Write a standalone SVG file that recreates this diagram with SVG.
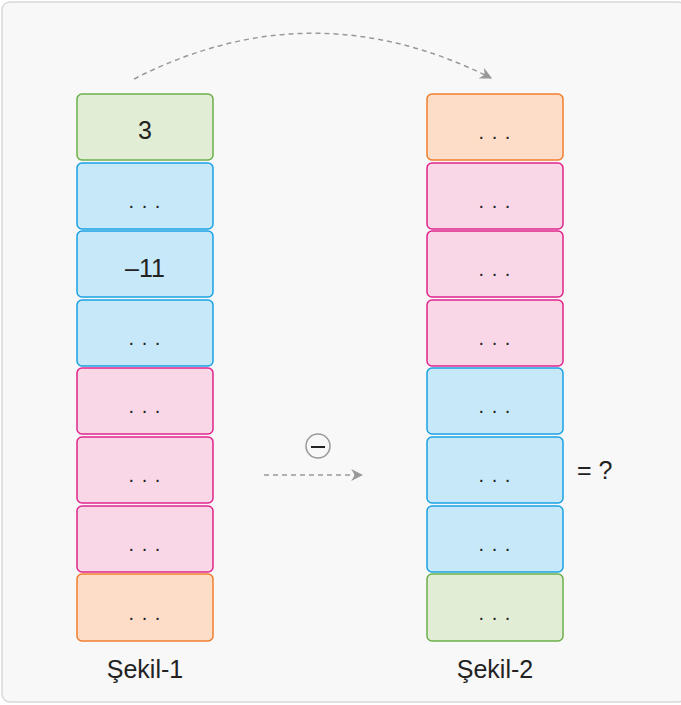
<svg xmlns="http://www.w3.org/2000/svg" width="681" height="705" viewBox="0 0 681 705">
<defs>
<style>
.t{font-family:"Liberation Sans",Arial,sans-serif;fill:#222;text-anchor:middle}
.d{font-size:20px;letter-spacing:1px}
.g{fill:#e1edd5;stroke:#6bb04a;stroke-width:1.5}
.b{fill:#c7e8f8;stroke:#1aa1e3;stroke-width:1.5}
.p{fill:#f9d7e7;stroke:#e0248c;stroke-width:1.5}
.o{fill:#fddcc8;stroke:#ef7d2c;stroke-width:1.5}
.c{fill:none;stroke:#999;stroke-width:1.5;stroke-dasharray:5 4}
</style>
<marker id="ah" viewBox="0 0 10 10" refX="9" refY="5" markerWidth="8" markerHeight="8" orient="auto" markerUnits="strokeWidth">
<path d="M0,0 L10,5 L0,10 L3,5 Z" fill="#999"/>
</marker>
</defs>
<rect x="2" y="2" width="684" height="700" rx="8" fill="#f8f8f8" stroke="#d8d8d8" stroke-width="1.5"/>
<g id="left">
<g id="l1"><rect class="g" x="77" y="94" width="136" height="66" rx="5"/><text class="t" x="145" y="139" font-size="25">3</text></g>
<g id="l2"><rect class="b" x="77" y="163" width="136" height="66" rx="5"/><text class="t d" x="145" y="208">. . .</text></g>
<g id="l3"><rect class="b" x="77" y="231" width="136" height="66" rx="5"/><text class="t" x="145" y="277" font-size="25">–11</text></g>
<g id="l4"><rect class="b" x="77" y="300" width="136" height="66" rx="5"/><text class="t d" x="145" y="345">. . .</text></g>
<g id="l5"><rect class="p" x="77" y="368" width="136" height="66" rx="5"/><text class="t d" x="145" y="413">. . .</text></g>
<g id="l6"><rect class="p" x="77" y="437" width="136" height="66" rx="5"/><text class="t d" x="145" y="482">. . .</text></g>
<g id="l7"><rect class="p" x="77" y="506" width="136" height="66" rx="5"/><text class="t d" x="145" y="551">. . .</text></g>
<g id="l8"><rect class="o" x="77" y="574" width="136" height="67" rx="5"/><text class="t d" x="145" y="620">. . .</text></g>
</g>
<g id="right">
<g id="r1"><rect class="o" x="427" y="94" width="136" height="66" rx="5"/><text class="t d" x="495" y="139">. . .</text></g>
<g id="r2"><rect class="p" x="427" y="163" width="136" height="66" rx="5"/><text class="t d" x="495" y="208">. . .</text></g>
<g id="r3"><rect class="p" x="427" y="231" width="136" height="66" rx="5"/><text class="t d" x="495" y="276">. . .</text></g>
<g id="r4"><rect class="p" x="427" y="300" width="136" height="66" rx="5"/><text class="t d" x="495" y="345">. . .</text></g>
<g id="r5"><rect class="b" x="427" y="368" width="136" height="66" rx="5"/><text class="t d" x="495" y="413">. . .</text></g>
<g id="r6"><rect class="b" x="427" y="437" width="136" height="66" rx="5"/><text class="t d" x="495" y="482">. . .</text></g>
<g id="r7"><rect class="b" x="427" y="506" width="136" height="66" rx="5"/><text class="t d" x="495" y="551">. . .</text></g>
<g id="r8"><rect class="g" x="427" y="574" width="136" height="67" rx="5"/><text class="t d" x="495" y="620">. . .</text></g>
</g>
<g id="labels">
<text class="t" x="145" y="678" font-size="25">Şekil-1</text>
<text class="t" x="495" y="678" font-size="25">Şekil-2</text>
<text class="t" x="577" y="479" font-size="25" text-anchor="start" style="text-anchor:start">= ?</text>
</g>
<g id="minus">
<circle cx="318" cy="446" r="12" fill="none" stroke="#999" stroke-width="1.5"/>
<line x1="311" y1="447" x2="325" y2="447" stroke="#222" stroke-width="2"/>
</g>
<g id="connectors">
<path class="c" d="M134,79 Q312,-12 491,78" marker-end="url(#ah)"/>
<path class="c" d="M264,475 L362,475" marker-end="url(#ah)"/>
</g>
</svg>
